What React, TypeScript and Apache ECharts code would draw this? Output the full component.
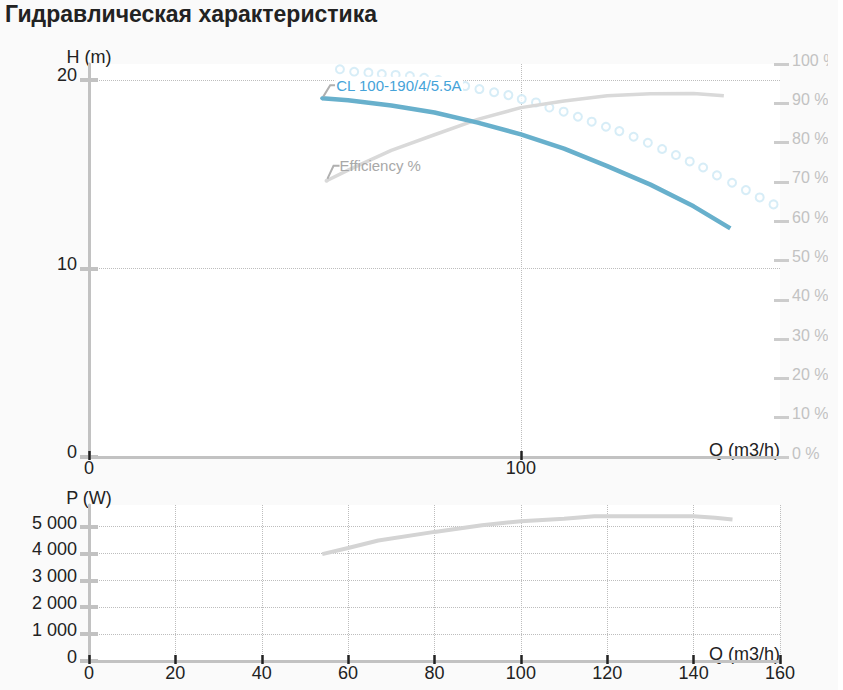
import React, { useEffect, useRef } from "react";
import * as echarts from "echarts";

const TITLE = "Гидравлическая характеристика";
const HEAD_NAME = "CL 100-190/4/5.5A";
const EFF_NAME = "Efficiency %";

// Head curve H (m) vs Q (m3/h)
const headQ = [54, 60, 70, 80, 90, 100, 110, 120, 130, 140, 148.5];
const headH = [19.03, 18.93, 18.65, 18.28, 17.74, 17.12, 16.36, 15.43, 14.45, 13.3, 12.13];

// Efficiency % vs Q
const effQ = [55, 60, 70, 80, 90, 100, 110, 120, 130, 140, 147];
const effE = [70.3, 73.0, 78.0, 82.0, 85.9, 88.9, 90.6, 91.9, 92.4, 92.5, 91.9];

// Dotted (circles) curve H vs Q
const dotQ = [58.1, 61.4, 64.7, 67.8, 71.0, 74.3, 77.6, 80.9, 84.1, 87.1, 90.4, 93.8, 97.1, 100.2, 103.5, 106.6, 109.9, 113.2, 116.4, 119.7, 122.8, 126.1, 129.4, 132.7, 135.9, 139.1, 142.2, 145.4, 148.9, 152.1, 155.3, 158.5];
const dotH = [20.57, 20.44, 20.39, 20.32, 20.27, 20.21, 20.12, 20.0, 19.84, 19.68, 19.52, 19.35, 19.2, 18.99, 18.81, 18.54, 18.32, 18.05, 17.79, 17.52, 17.29, 16.99, 16.67, 16.34, 16.02, 15.68, 15.36, 14.94, 14.55, 14.16, 13.77, 13.4];

// Power P (W) vs Q
const powQ = [54, 60, 67, 80, 91, 100, 110, 117, 120, 130, 140, 145, 149];
const powP = [3975, 4200, 4480, 4800, 5050, 5200, 5290, 5380, 5385, 5385, 5380, 5325, 5265];

// Tick values
const hTicks = [0, 10, 20];
const qTicksTop = [0, 100];
const pTicks = [0, 1000, 2000, 3000, 4000, 5000];

const FONT = "'Liberation Sans', Arial, Helvetica, sans-serif";
const GRID_LINE = { color: "#bdbdbd", type: "dotted" as const, width: 1 };
const AXIS_GREY = "#c2c2c2";
const TICK_DARK = "#222";

function fmtThousands(v: number): string {
  if (v >= 1000) {
    const th = Math.floor(v / 1000);
    const rest = String(v % 1000).padStart(3, "0");
    return th + " " + rest;
  }
  return String(v);
}

export default function App() {
  const ref = useRef<HTMLDivElement>(null);

  useEffect(() => {
    document.body.style.margin = "0";
    document.body.style.background = "#ffffff";
    if (!ref.current) return;
    const chart = echarts.init(ref.current, undefined, { renderer: "svg" });

    const headData: any[] = headQ.map((q, i) => [q, headH[i]]);
    headData[0] = {
      value: headData[0],
      symbol: "circle",
      symbolSize: 4,
      label: {
        show: true,
        formatter: HEAD_NAME,
        position: "right",
        distance: 0,
        color: "#45a3d9",
        fontSize: 15,
        fontFamily: FONT,
        backgroundColor: "#ffffff",
        padding: [1, 1, 1, 1],
      },
    };

    const effData: any[] = effQ.map((q, i) => [q, effE[i]]);
    effData[0] = {
      value: effData[0],
      symbol: "circle",
      symbolSize: 4,
      label: {
        show: true,
        formatter: EFF_NAME,
        position: "right",
        distance: 0,
        color: "#a8a8a8",
        fontSize: 15,
        fontFamily: FONT,
      },
    };

    const dotData = dotQ.map((q, i) => [q, dotH[i]]);
    const powData = powQ.map((q, i) => [q, powP[i]]);

    const yNameStyle = { fontSize: 18, color: "#222", align: "center", verticalAlign: "bottom", lineHeight: 18, fontFamily: FONT };
    const xNameStyle = { fontSize: 18, color: "#222", align: "right", verticalAlign: "bottom", lineHeight: 15, fontFamily: FONT };

    const option: any = {
      animation: false,
      backgroundColor: "#fafafa",
      textStyle: { fontFamily: FONT },
      title: {
        text: TITLE,
        left: 5,
        top: 2,
        padding: 0,
        textStyle: { fontSize: 23, fontWeight: "bold", color: "#222", fontFamily: FONT },
      },
      grid: [
        { left: 89, top: 64, width: 691, height: 393, show: true, backgroundColor: "#ffffff", borderWidth: 0, outerBoundsMode: "none", containLabel: false },
        { left: 89, top: 505, width: 691, height: 156, show: true, backgroundColor: "#ffffff", borderWidth: 0, outerBoundsMode: "none", containLabel: false },
      ],
      xAxis: [
        {
          type: "value", gridIndex: 0, min: 0, max: 160, position: "bottom",
          name: "Q (m3/h)", nameLocation: "end", nameGap: 0,
          nameTextStyle: xNameStyle,
          axisLine: { show: true, onZero: false, lineStyle: { color: AXIS_GREY, width: 3 } },
          axisTick: { show: true, customValues: qTicksTop, length: 3, lineStyle: { color: TICK_DARK, width: 2.5 } },
          axisLabel: { show: true, customValues: qTicksTop, fontSize: 18, color: "#222", margin: 2, fontFamily: FONT },
          splitLine: { show: true, showMinLine: false, lineStyle: GRID_LINE },
        },
        {
          type: "value", gridIndex: 1, min: 0, max: 160, interval: 20, position: "bottom",
          name: "Q (m3/h)", nameLocation: "end", nameGap: 0,
          nameTextStyle: xNameStyle,
          axisLine: { show: true, onZero: false, lineStyle: { color: AXIS_GREY, width: 3 } },
          axisTick: { show: true, length: 3, lineStyle: { color: TICK_DARK, width: 2.5 } },
          axisLabel: { show: true, fontSize: 18, color: "#222", margin: 3, fontFamily: FONT },
          splitLine: { show: true, showMinLine: false, lineStyle: GRID_LINE },
        },
        {
          type: "value", gridIndex: 0, min: 0, max: 160, position: "bottom",
          axisLine: { show: false },
          axisTick: { show: true, inside: true, customValues: qTicksTop, length: 6, lineStyle: { color: TICK_DARK, width: 2.5 } },
          axisLabel: { show: false },
          splitLine: { show: false },
        },
        {
          type: "value", gridIndex: 1, min: 0, max: 160, interval: 20, position: "bottom",
          axisLine: { show: false },
          axisTick: { show: true, inside: true, length: 6, lineStyle: { color: TICK_DARK, width: 2.5 } },
          axisLabel: { show: false },
          splitLine: { show: false },
        },
      ],
      yAxis: [
        {
          type: "value", gridIndex: 0, min: 0, max: 20.85, position: "left",
          name: "H (m)", nameLocation: "end", nameGap: -2,
          nameTextStyle: yNameStyle,
          axisLine: { show: true, onZero: false, lineStyle: { color: AXIS_GREY, width: 3 } },
          axisTick: { show: true, customValues: hTicks, length: 9, lineStyle: { color: AXIS_GREY, width: 4 } },
          axisLabel: { show: true, customValues: hTicks, fontSize: 18, color: "#222", margin: 12, verticalAlign: "bottom", lineHeight: 10, fontFamily: FONT },
          splitLine: { show: true, showMinLine: false, lineStyle: GRID_LINE },
        },
        {
          type: "value", gridIndex: 0, min: 0, max: 100, interval: 10, position: "right",
          axisLine: { show: false, onZero: false },
          axisTick: { show: true, length: 9, lineStyle: { color: "#cccccc", width: 3 } },
          axisLabel: { show: true, formatter: "{value} %", fontSize: 16, color: "#c2c2c2", margin: 12, verticalAlign: "bottom", lineHeight: 8, fontFamily: FONT },
          splitLine: { show: false },
        },
        {
          type: "value", gridIndex: 1, min: 0, max: 5800, position: "left",
          name: "P (W)", nameLocation: "end", nameGap: -2,
          nameTextStyle: yNameStyle,
          axisLine: { show: true, onZero: false, lineStyle: { color: AXIS_GREY, width: 3 } },
          axisTick: { show: true, customValues: pTicks, length: 9, lineStyle: { color: AXIS_GREY, width: 4 } },
          axisLabel: { show: true, customValues: pTicks, formatter: (v: number) => fmtThousands(v), fontSize: 18, color: "#222", margin: 12, verticalAlign: "bottom", lineHeight: 8, fontFamily: FONT },
          splitLine: { show: true, showMinLine: false, lineStyle: GRID_LINE },
        },
        {
          type: "value", gridIndex: 0, min: 0, max: 20.85, position: "left",
          axisLine: { show: false, onZero: false },
          axisTick: { show: true, inside: true, customValues: hTicks, length: 9, lineStyle: { color: AXIS_GREY, width: 4 } },
          axisLabel: { show: false },
          splitLine: { show: false },
        },
        {
          type: "value", gridIndex: 0, min: 0, max: 100, interval: 10, position: "right",
          axisLine: { show: false, onZero: false },
          axisTick: { show: true, inside: true, length: 6, lineStyle: { color: "#cccccc", width: 3 } },
          axisLabel: { show: false },
          splitLine: { show: false },
        },
        {
          type: "value", gridIndex: 1, min: 0, max: 5800, position: "left",
          axisLine: { show: false, onZero: false },
          axisTick: { show: true, inside: true, customValues: pTicks, length: 9, lineStyle: { color: AXIS_GREY, width: 4 } },
          axisLabel: { show: false },
          splitLine: { show: false },
        },
      ],
      series: [
        {
          name: EFF_NAME, type: "line", xAxisIndex: 0, yAxisIndex: 1,
          data: effData, symbol: "none", showSymbol: true, showAllSymbol: true,
          itemStyle: { color: "#d9d9d9" },
          lineStyle: { color: "#d9d9d9", width: 3.5 },
          labelLayout: { dx: 11, dy: -15 },
          labelLine: { show: true, length2: 6, lineStyle: { color: "#b0b0b0", width: 2 } },
          silent: true,
        },
        {
          name: HEAD_NAME, type: "line", xAxisIndex: 0, yAxisIndex: 0,
          data: headData, symbol: "none", showSymbol: true, showAllSymbol: true,
          itemStyle: { color: "#68b0cc" },
          lineStyle: { color: "#68b0cc", width: 4.5 },
          labelLayout: { dx: 11, dy: -13 },
          labelLine: { show: true, length2: 5, lineStyle: { color: "#b0b0b0", width: 2 } },
          silent: true,
          z: 3,
        },
        {
          name: "dots", type: "scatter", xAxisIndex: 0, yAxisIndex: 0,
          data: dotData, symbol: "emptyCircle", symbolSize: 8,
          itemStyle: { color: "#cde8f5", borderColor: "#cde8f5", borderWidth: 2 },
          silent: true,
          z: 2,
        },
        {
          name: "P", type: "line", xAxisIndex: 1, yAxisIndex: 2,
          data: powData, symbol: "none", showSymbol: false,
          lineStyle: { color: "#d4d4d4", width: 4 },
          silent: true,
        },
      ],
    };

    chart.setOption(option);
    return () => chart.dispose();
  }, []);

  return (
    <div style={{ width: 838, height: 690, background: "#fafafa" }}>
      <div ref={ref} style={{ width: 828, height: 690 }} />
    </div>
  );
}
